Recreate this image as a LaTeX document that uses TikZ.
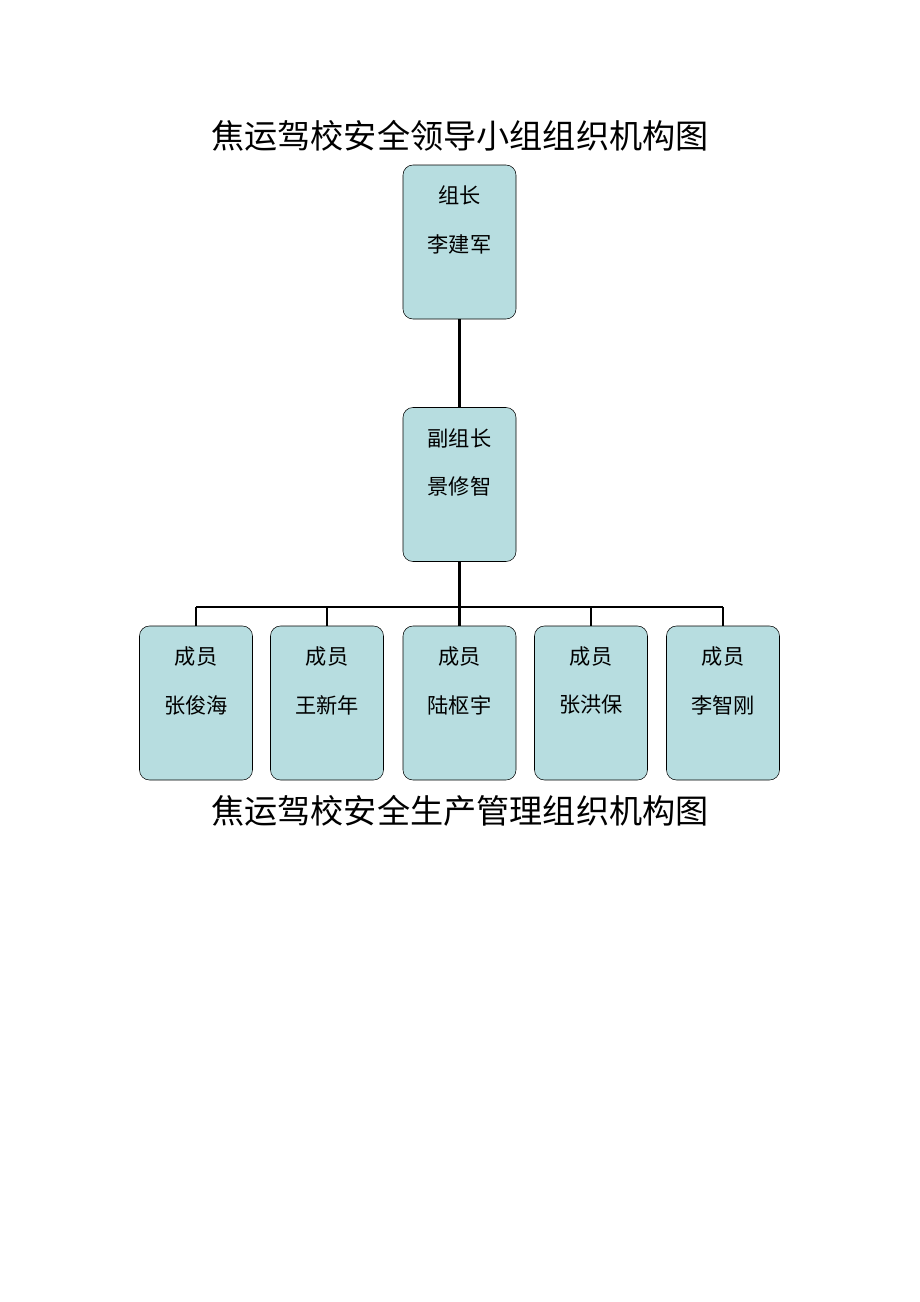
\documentclass[tikz,border=0pt]{standalone}
\usepackage{fontspec}
\newfontfamily\cjk{Noto Sans CJK SC}
\usetikzlibrary{positioning}
\definecolor{boxfill}{RGB}{183,221,224}
\begin{document}
\begin{tikzpicture}[x=0.0265cm,y=-0.0265cm,
    every node/.append style={font=\cjk},
    post/.style={draw=black,fill=boxfill,rounded corners=7.5pt,
                 minimum width=113*0.0265cm,minimum height=154*0.0265cm,
                 align=center,font=\cjk\fontsize{16}{27}\selectfont,
                 text depth=0,anchor=center},
    title/.style={font=\cjk\fontsize{25}{30}\selectfont},
    tie/.style={line width=2.2pt}]
    \useasboundingbox (0,0) rectangle (920,1302);
    \node[title] (head) at (460,136) {焦运驾校安全领导小组组织机构图};
    \node[post] (chief) at (459.5,242) {};
    \node[font=\cjk\fontsize{16}{16}\selectfont] (chiefa) at (459.5,195) {组长};
    \node[font=\cjk\fontsize{16}{16}\selectfont] (chiefb) at (459.5,244) {李建军};
    \node[post] (deputy) at (459.5,484.5) {};
    \node[font=\cjk\fontsize{16}{16}\selectfont] (deputya) at (459.5,438) {副组长};
    \node[font=\cjk\fontsize{16}{16}\selectfont] (deputyb) at (459.5,486) {景修智};
    \coordinate (bus) at (459.5,607);
    \draw[tie] (chief) -- (deputy);
    \draw[tie] (deputy) -- (bus);
    \foreach \x/\who/\nm in {196/zhang/张俊海,327/wang/王新年,459.5/lu/陆枢宇,591/hong/张洪保,723/li/李智刚}{
        \node[post] (\who) at (\x,703) {};
        \node[font=\cjk\fontsize{16}{16}\selectfont] at (\x,657) {成员};
        \node[font=\cjk\fontsize{16}{16}\selectfont] at (\x,705) {\nm};
        \coordinate (\who-top) at (\x,607);
        \draw[tie] (\who-top) -- (\who);
    }
    \draw[tie] (zhang-top) -- (li-top);
    \node[title] (foot) at (460,811) {焦运驾校安全生产管理组织机构图};
\end{tikzpicture}
\end{document}
